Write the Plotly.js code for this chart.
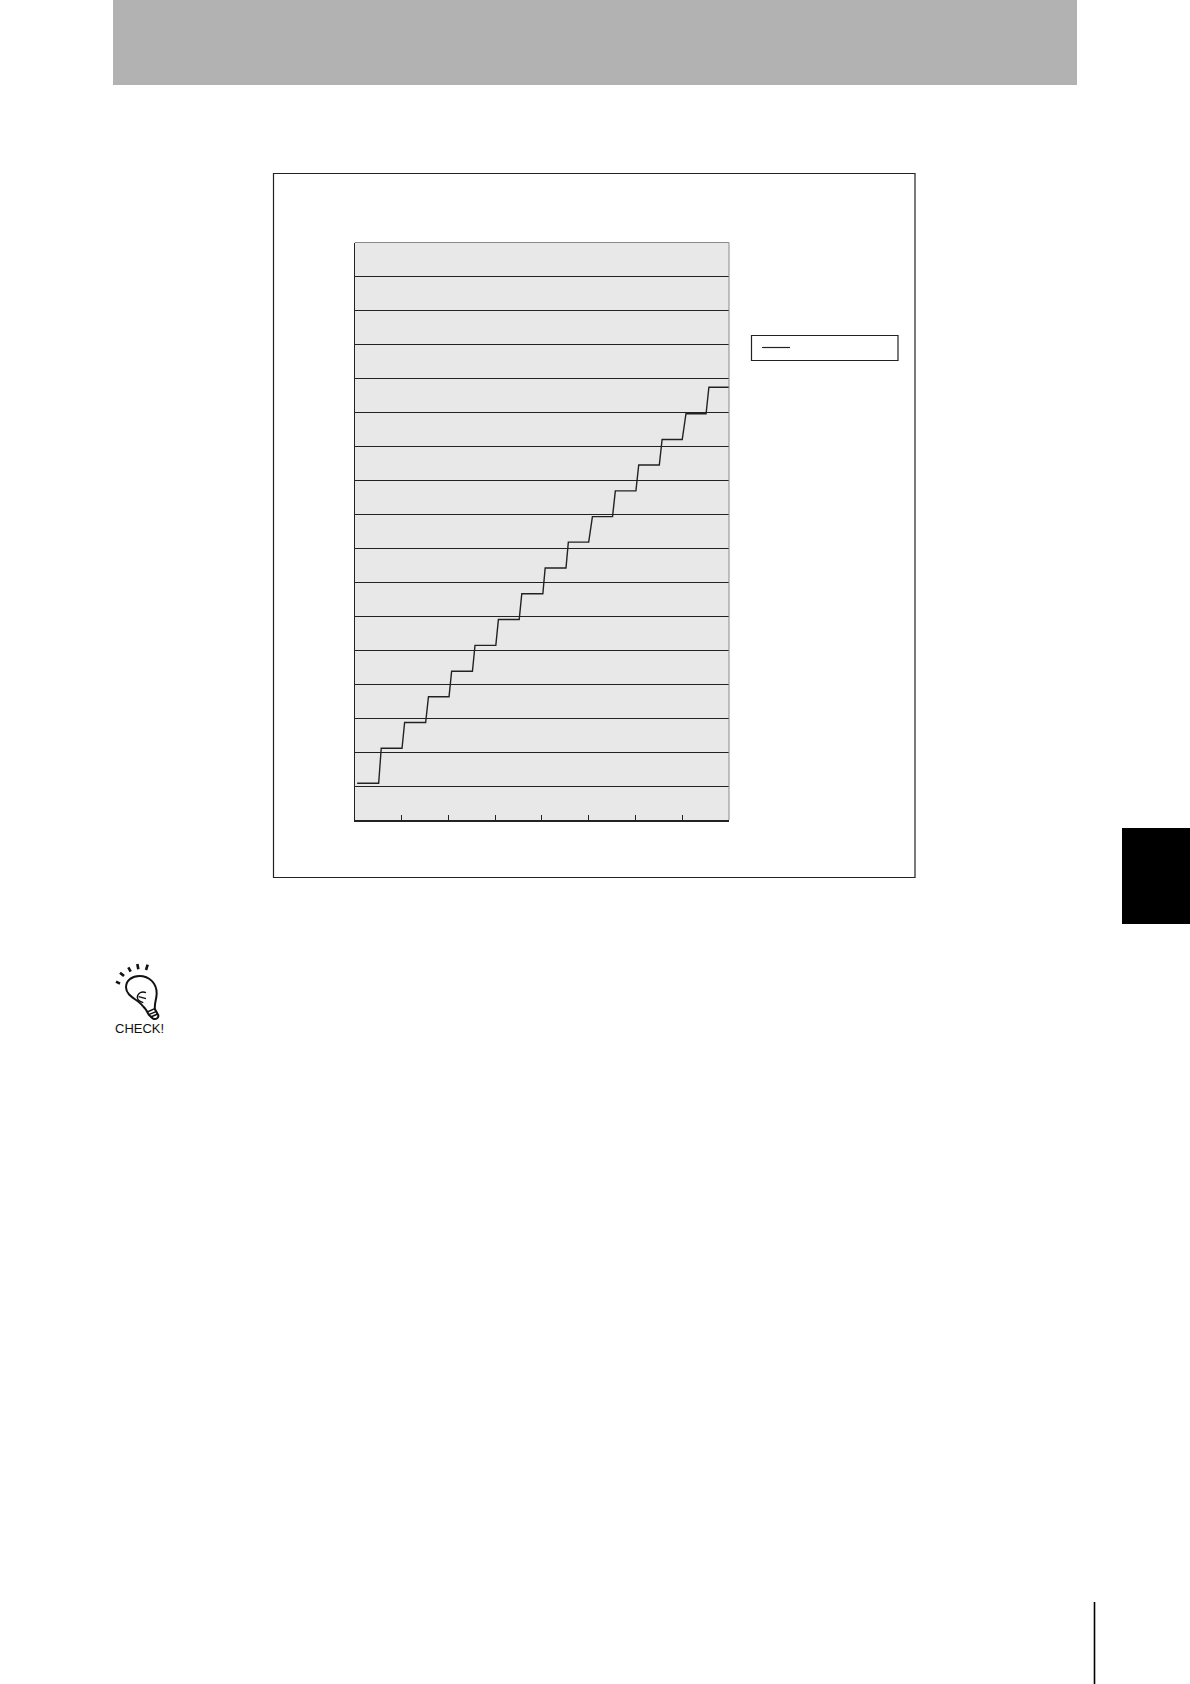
<!DOCTYPE html>
<html>
<head>
<meta charset="utf-8">
<script src="https://cdn.plot.ly/plotly-3.0.1.min.js"></script>
<style>html,body{margin:0;padding:0;background:#fff}#c{width:1190px;height:1684px}</style>
</head>
<body>
<div id="c"></div>
<script>
const stepX = [0.05,0.51,0.565,1.01,1.065,1.515,1.575,2.015,2.07,2.515,2.57,3.015,3.07,3.515,3.57,4.02,4.07,4.515,4.565,5.0,5.08,5.51,5.57,6.01,6.07,6.51,6.57,7.0,7.08,7.51,7.57,8.0];
const stepY = [1.08,1.08,2.11,2.11,2.87,2.87,3.63,3.63,4.38,4.38,5.14,5.14,5.90,5.90,6.66,6.66,7.42,7.42,8.18,8.18,8.93,8.93,9.69,9.69,10.45,10.45,11.2,11.2,11.96,11.96,12.74,12.74];
const xTicks = [0,1,2,3,4,5,6,7,8];
const yGrid = [1,2,3,4,5,6,7,8,9,10,11,12,13,14,15,16];

const W = 1190, H = 1684;
const fx = v => v / W, fy = v => 1 - v / H;
const ink = '#222222';
const rect = (x0, y0, x1, y1, o) => Object.assign({type:'rect', xref:'paper', yref:'paper', x0:fx(x0), x1:fx(x1), y0:fy(y0), y1:fy(y1), line:{width:0}}, o);
const seg = (x0, y0, x1, y1, color, width) => ({type:'line', xref:'paper', yref:'paper', x0:fx(x0), x1:fx(x1), y0:fy(y0), y1:fy(y1), line:{color, width}});

const ix = v => fx(100 + v / 3), iy = v => fy(950 + v / 3);
const icon = s => s.replace(/(-?[\d.]+) (-?[\d.]+)/g, (m, a, b) => ix(+a) + ',' + iy(+b));
const ipath = (d, w) => ({type:'path', xref:'paper', yref:'paper', path:icon(d), line:{color:'#111', width:w}});

const shapes = [
  rect(113, 0, 1077, 85, {fillcolor:'#b2b2b2', layer:'below'}),
  rect(273.5, 173.5, 915, 877.5, {line:{color:ink, width:1.2}, layer:'below'}),
  seg(354.8, 242.5, 729, 242.5, '#8a8a8a', 1),
  seg(729, 242.5, 729, 820, '#8a8a8a', 1),
  rect(751.5, 335.5, 898, 360.5, {line:{color:ink, width:1.2}, fillcolor:'#ffffff'}),
  seg(762, 347.5, 790, 347.5, ink, 1.2),
  rect(1122, 828, 1190, 924, {fillcolor:'#000', layer:'below'}),
  seg(1094.5, 1602, 1094.5, 1684, '#000', 1.6),
  ipath('M 128 168 C 118 150 78 140 78 112 C 78 90 98 78 118 78 C 148 78 170 100 170 130 C 170 150 162 160 165 178 L 175 196 C 176 206 166 210 158 205 L 146 194 C 142 185 138 176 128 168', 2),
  ipath('M 48 95 L 60 101', 2.6),
  ipath('M 60 68 L 72 78', 2.6),
  ipath('M 85 52 L 92 65', 2.6),
  ipath('M 112 42 L 115 58', 2.6),
  ipath('M 143 44 L 138 60', 2.6),
  ipath('M 138 128 C 125 122 112 130 112 142 C 112 150 122 156 130 158 M 116 140 L 138 146', 1.4),
  ipath('M 142 186 L 164 176 M 146 194 L 170 184 M 152 201 L 173 192', 1.4)
];

const trace = {
  x: stepX, y: stepY, type:'scatter', mode:'lines',
  line:{color:ink, width:1.4, shape:'linear'}, hoverinfo:'skip'
};

const layout = {
  width:W, height:H,
  margin:{l:0, r:0, t:0, b:0, pad:0},
  paper_bgcolor:'#ffffff', plot_bgcolor:'#e8e8e8',
  showlegend:false,
  xaxis:{
    domain:[fx(354.8), fx(729)], range:[0,8], tickvals:xTicks, ticks:'inside', ticklen:5, tickwidth:1, tickcolor:ink,
    showticklabels:false, showgrid:false, zeroline:false, showline:true, linecolor:ink, linewidth:1.5
  },
  yaxis:{
    domain:[fy(820), fy(242.5)], range:[0,17], tickvals:yGrid, ticks:'', showticklabels:false,
    showgrid:true, gridcolor:ink, gridwidth:1, zeroline:false, showline:true, linecolor:ink, linewidth:1.2
  },
  shapes,
  annotations:[{
    xref:'paper', yref:'paper', x:fx(139), y:fy(1028), xanchor:'center', yanchor:'middle',
    text:'CHECK!', showarrow:false, font:{family:'Liberation Sans', size:13, color:'#111'}
  }]
};

Plotly.newPlot('c', [trace], layout, {displayModeBar:false, staticPlot:true});
</script>
</body>
</html>
